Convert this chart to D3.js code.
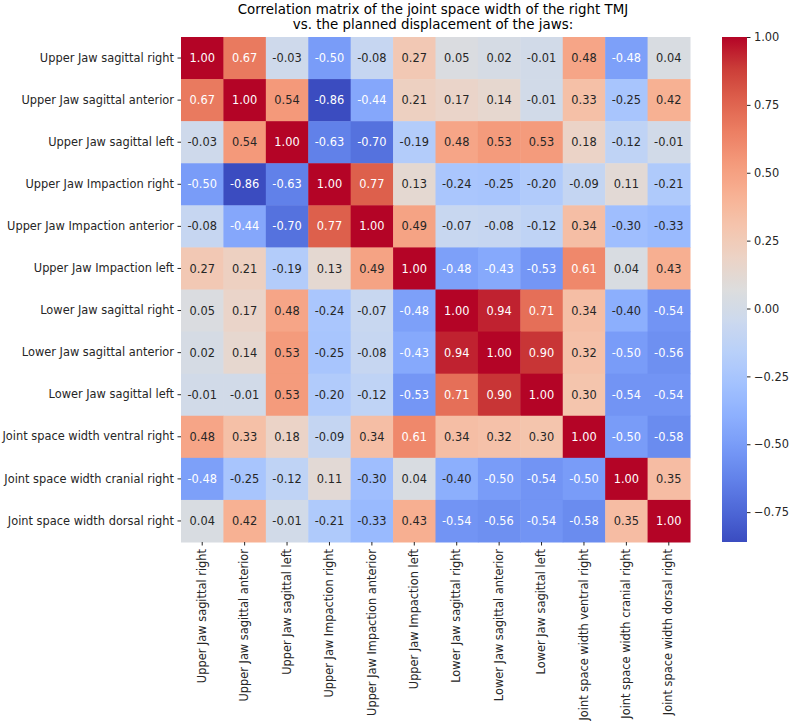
<!DOCTYPE html>
<html>
<head>
<meta charset="utf-8">
<script src="https://cdn.jsdelivr.net/npm/d3@7"></script>
<style>
  body { margin: 0; background: #fff; }
  text { font-family: "DejaVu Sans", sans-serif; }
</style>
</head>
<body>
<svg id="chart"></svg>
<script>
// labels (same order on both axes)
const variables = [
    "Upper Jaw sagittal right",
    "Upper Jaw sagittal anterior",
    "Upper Jaw sagittal left",
    "Upper Jaw Impaction right",
    "Upper Jaw Impaction anterior",
    "Upper Jaw Impaction left",
    "Lower Jaw sagittal right",
    "Lower Jaw sagittal anterior",
    "Lower Jaw sagittal left",
    "Joint space width ventral right",
    "Joint space width cranial right",
    "Joint space width dorsal right"
];

// correlation values, one row per variable
const corrValues = [
    [ 1.00,  0.67, -0.03, -0.50, -0.08,  0.27,  0.05,  0.02, -0.01,  0.48, -0.48,  0.04],
    [ 0.67,  1.00,  0.54, -0.86, -0.44,  0.21,  0.17,  0.14, -0.01,  0.33, -0.25,  0.42],
    [-0.03,  0.54,  1.00, -0.63, -0.70, -0.19,  0.48,  0.53,  0.53,  0.18, -0.12, -0.01],
    [-0.50, -0.86, -0.63,  1.00,  0.77,  0.13, -0.24, -0.25, -0.20, -0.09,  0.11, -0.21],
    [-0.08, -0.44, -0.70,  0.77,  1.00,  0.49, -0.07, -0.08, -0.12,  0.34, -0.30, -0.33],
    [ 0.27,  0.21, -0.19,  0.13,  0.49,  1.00, -0.48, -0.43, -0.53,  0.61,  0.04,  0.43],
    [ 0.05,  0.17,  0.48, -0.24, -0.07, -0.48,  1.00,  0.94,  0.71,  0.34, -0.40, -0.54],
    [ 0.02,  0.14,  0.53, -0.25, -0.08, -0.43,  0.94,  1.00,  0.90,  0.32, -0.50, -0.56],
    [-0.01, -0.01,  0.53, -0.20, -0.12, -0.53,  0.71,  0.90,  1.00,  0.30, -0.54, -0.54],
    [ 0.48,  0.33,  0.18, -0.09,  0.34,  0.61,  0.34,  0.32,  0.30,  1.00, -0.50, -0.58],
    [-0.48, -0.25, -0.12,  0.11, -0.30,  0.04, -0.40, -0.50, -0.54, -0.50,  1.00,  0.35],
    [ 0.04,  0.42, -0.01, -0.21, -0.33,  0.43, -0.54, -0.56, -0.54, -0.58,  0.35,  1.00]
];

const colorbarTicks = [-0.75, -0.5, -0.25, 0, 0.25, 0.5, 0.75, 1.0];

const titleLines = [
    "Correlation matrix of the joint space width of the right TMJ",
    "vs. the planned displacement of the jaws:"
];

// matplotlib "coolwarm" sampled every 1/16
const coolwarm = [
    [0.230, 0.299, 0.754], [0.304, 0.407, 0.845], [0.383, 0.509, 0.917],
    [0.467, 0.605, 0.968], [0.553, 0.689, 0.995], [0.639, 0.760, 0.998],
    [0.722, 0.814, 0.977], [0.799, 0.850, 0.932], [0.865, 0.865, 0.865],
    [0.924, 0.827, 0.775], [0.959, 0.770, 0.678], [0.970, 0.694, 0.579],
    [0.958, 0.603, 0.482], [0.924, 0.497, 0.388], [0.869, 0.378, 0.300],
    [0.796, 0.241, 0.221], [0.706, 0.016, 0.150]
];

const W = 794, H = 726;
const margin = {left: 181, top: 37, right: 104, bottom: 184};
const fontSize = 11.4;

const svg = d3.select("#chart").attr("width", W).attr("height", H);

const vmin = d3.min(corrValues.flat()), vmax = d3.max(corrValues.flat());

const cmap = d3.piecewise(d3.interpolateRgb,
    coolwarm.map(c => d3.rgb(c[0] * 255, c[1] * 255, c[2] * 255)));
const color = v => cmap((v - vmin) / (vmax - vmin));

// same rule seaborn uses to pick the annotation colour
function luminance(c) {
    const rgb = d3.rgb(c);
    const lin = [rgb.r, rgb.g, rgb.b].map(x => {
        x /= 255;
        return x <= 0.03928 ? x / 12.92 : Math.pow((x + 0.055) / 1.055, 2.4);
    });
    return 0.2126 * lin[0] + 0.7152 * lin[1] + 0.0722 * lin[2];
}

const x = d3.scaleBand().domain(variables).range([margin.left, W - margin.right]);
const y = d3.scaleBand().domain(variables).range([margin.top, H - margin.bottom]);

const cells = [];
corrValues.forEach((row, i) => row.forEach((v, j) => cells.push({r: variables[i], c: variables[j], v: v})));

const g = svg.append("g");
g.selectAll("rect")
    .data(cells)
    .join("rect")
    .attr("x", d => x(d.c))
    .attr("y", d => y(d.r))
    .attr("width", x.bandwidth() + 0.5)
    .attr("height", y.bandwidth() + 0.5)
    .attr("fill", d => color(d.v));

g.selectAll("text.annot")
    .data(cells)
    .join("text")
    .attr("class", "annot")
    .attr("x", d => x(d.c) + x.bandwidth() / 2)
    .attr("y", d => y(d.r) + y.bandwidth() / 2)
    .attr("dy", "0.36em")
    .attr("text-anchor", "middle")
    .attr("font-size", fontSize)
    .attr("fill", d => luminance(color(d.v)) > 0.408 ? "#262626" : "#fff")
    .text(d => d.v.toFixed(2));

// axes
const xAxis = d3.axisBottom(x).tickSize(3.5).tickPadding(3.5);
const yAxis = d3.axisLeft(y).tickSize(3.5).tickPadding(3.5);

const xAxisG = svg.append("g")
    .attr("transform", `translate(0,${H - margin.bottom})`)
    .call(xAxis);
xAxisG.select(".domain").remove();
xAxisG.selectAll("line").attr("stroke", "#262626");
xAxisG.selectAll("text")
    .attr("font-size", fontSize)
    .attr("fill", "#262626")
    .attr("transform", "rotate(-90)")
    .attr("text-anchor", "end")
    .attr("x", -7)
    .attr("y", 0)
    .attr("dy", "0.32em");

const yAxisG = svg.append("g")
    .attr("transform", `translate(${margin.left},0)`)
    .call(yAxis);
yAxisG.select(".domain").remove();
yAxisG.selectAll("line").attr("stroke", "#262626");
yAxisG.selectAll("text")
    .attr("font-size", fontSize)
    .attr("fill", "#262626");

// colorbar
const cbX = 722, cbW = 25;
const cbScale = d3.scaleLinear().domain([vmin, vmax]).range([H - margin.bottom, margin.top]);

const grad = svg.append("defs").append("linearGradient")
    .attr("id", "cbgrad")
    .attr("x1", 0).attr("y1", 1).attr("x2", 0).attr("y2", 0);
d3.range(0, 1.0001, 1 / 64).forEach(t => {
    grad.append("stop").attr("offset", t).attr("stop-color", cmap(t));
});

svg.append("rect")
    .attr("x", cbX)
    .attr("y", margin.top)
    .attr("width", cbW)
    .attr("height", H - margin.bottom - margin.top)
    .attr("fill", "url(#cbgrad)");

const cbAxisG = svg.append("g")
    .attr("transform", `translate(${cbX + cbW},0)`)
    .call(d3.axisRight(cbScale)
        .tickValues(colorbarTicks)
        .tickSize(3.5)
        .tickPadding(3.5)
        .tickFormat(d => d3.format(".2f")(d).replace("-", "\u2212")));
cbAxisG.select(".domain").remove();
cbAxisG.selectAll("line").attr("stroke", "#262626");
cbAxisG.selectAll("text")
    .attr("font-size", fontSize)
    .attr("fill", "#262626");

// title
const titleX = 433;
svg.append("text")
    .attr("y", 14)
    .attr("text-anchor", "middle")
    .attr("font-size", 13.4)
    .attr("fill", "#000")
    .selectAll("tspan")
    .data(titleLines)
    .join("tspan")
    .attr("x", titleX)
    .attr("dy", (d, i) => i === 0 ? 0 : 15)
    .text(d => d);
</script>
</body>
</html>
